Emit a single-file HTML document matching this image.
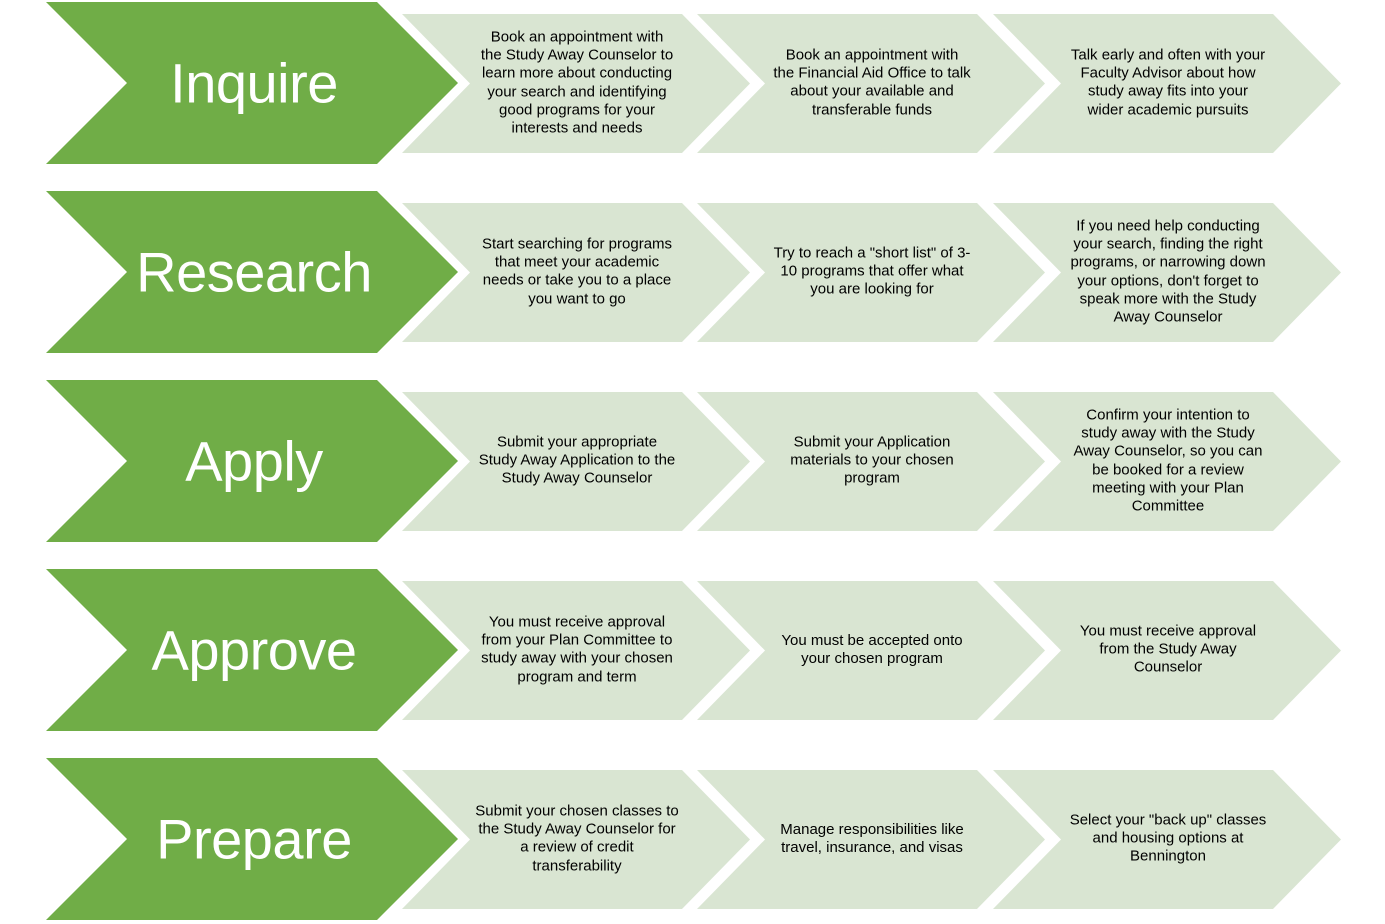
<!DOCTYPE html>
<html><head><meta charset="utf-8"><style>
html,body{margin:0;padding:0;background:#fff;}
#w{position:relative;width:1385px;height:924px;overflow:hidden;font-family:"Liberation Sans",sans-serif;}
svg{position:absolute;left:0;top:0;}
.t{position:absolute;text-align:center;font-size:15px;line-height:18.2px;color:#000;letter-spacing:0px;transform:translate(-50%,-50%);white-space:nowrap;}
.b{position:absolute;color:#fff;font-size:56px;transform:translate(-50%,-50%);letter-spacing:-0.5px;white-space:nowrap;}
</style></head><body><div id="w">
<svg width="1385" height="924">
<g id="r">
<polygon points="46,2 377,2 458,83 377,164 46,164 127,83" fill="#70ad47"/>
<polygon points="402,14 682,14 750,83.5 682,153 402,153 470,83.5" fill="#d9e5d2"/>
<polygon points="697,14 977,14 1045,83.5 977,153 697,153 765,83.5" fill="#d9e5d2"/>
<polygon points="993,14 1273,14 1341,83.5 1273,153 993,153 1061,83.5" fill="#d9e5d2"/>
</g>
<use href="#r" y="189"/><use href="#r" y="378"/><use href="#r" y="567"/><use href="#r" y="756"/>
</svg>
<div class="b" style="left:254px;top:83px">Inquire</div>
<div class="b" style="left:254px;top:272px">Research</div>
<div class="b" style="left:254px;top:461px">Apply</div>
<div class="b" style="left:254px;top:650px">Approve</div>
<div class="b" style="left:254px;top:839px">Prepare</div>

<div class="t" style="left:577px;top:83px">Book an appointment with<br>the Study Away Counselor to<br>learn more about conducting<br>your search and identifying<br>good programs for your<br>interests and needs</div>
<div class="t" style="left:872px;top:83px">Book an appointment with<br>the Financial Aid Office to talk<br>about your available and<br>transferable funds</div>
<div class="t" style="left:1168px;top:83px">Talk early and often with your<br>Faculty Advisor about how<br>study away fits into your<br>wider academic pursuits</div>

<div class="t" style="left:577px;top:272px">Start searching for programs<br>that meet your academic<br>needs or take you to a place<br>you want to go</div>
<div class="t" style="left:872px;top:272px">Try to reach a "short list" of 3-<br>10 programs that offer what<br>you are looking for</div>
<div class="t" style="left:1168px;top:272px">If you need help conducting<br>your search, finding the right<br>programs, or narrowing down<br>your options, don't forget to<br>speak more with the Study<br>Away Counselor</div>

<div class="t" style="left:577px;top:461px">Submit your appropriate<br>Study Away Application to the<br>Study Away Counselor</div>
<div class="t" style="left:872px;top:461px">Submit your Application<br>materials to your chosen<br>program</div>
<div class="t" style="left:1168px;top:461px">Confirm your intention to<br>study away with the Study<br>Away Counselor, so you can<br>be booked for a review<br>meeting with your Plan<br>Committee</div>

<div class="t" style="left:577px;top:650px">You must receive approval<br>from your Plan Committee to<br>study away with your chosen<br>program and term</div>
<div class="t" style="left:872px;top:650px">You must be accepted onto<br>your chosen program</div>
<div class="t" style="left:1168px;top:650px">You must receive approval<br>from the Study Away<br>Counselor</div>

<div class="t" style="left:577px;top:839px">Submit your chosen classes to<br>the Study Away Counselor for<br>a review of credit<br>transferability</div>
<div class="t" style="left:872px;top:839px">Manage responsibilities like<br>travel, insurance, and visas</div>
<div class="t" style="left:1168px;top:839px">Select your "back up" classes<br>and housing options at<br>Bennington</div>
</div></body></html>
